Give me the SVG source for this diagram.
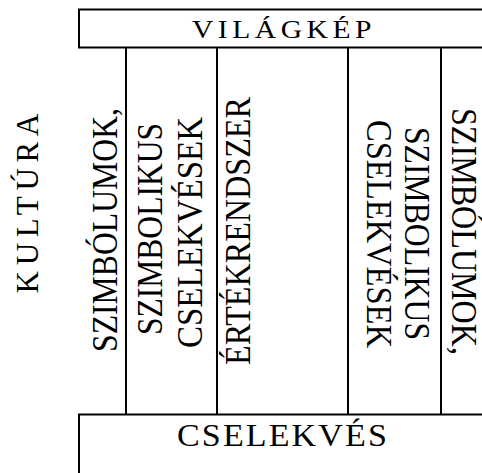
<svg xmlns="http://www.w3.org/2000/svg" width="482" height="473" viewBox="0 0 482 473">
<style>
.ln{fill:none;stroke:#000;stroke-width:2}
.t{font-family:"Liberation Serif","Times New Roman",serif;fill:#000;text-anchor:middle}
.col{font-size:35px}
</style>
<rect width="482" height="473" fill="#fff"/>
<g id="vilagkep">
<path class="ln" d="M484 9.5H79V47.5H484"/>
<text class="t" x="284" y="38" font-size="26" letter-spacing="4" textLength="184" lengthAdjust="spacingAndGlyphs">VILÁGKÉP</text>
</g>
<g id="cselekves">
<path class="ln" d="M79 475V414.5H484"/>
<text class="t" x="283" y="445.5" font-size="32" letter-spacing="2" textLength="212" lengthAdjust="spacingAndGlyphs">CSELEKVÉS</text>
</g>
<g id="kultura">
<text class="t" transform="translate(38,203.5) rotate(-90)" font-size="31" textLength="180" lengthAdjust="spacing">KULTÚRA</text>
</g>
<g id="connectors">
<path class="ln" d="M126 47.5V414.5M217 47.5V414.5M348 47.5V414.5M441 47.5V414.5"/>
</g>
<g id="col1">
<text class="t col" transform="translate(117,230) rotate(-90)" textLength="244" lengthAdjust="spacingAndGlyphs">SZIMBÓLUMOK,</text>
</g>
<g id="col2">
<text class="t col" transform="translate(162,229) rotate(-90)" textLength="212" lengthAdjust="spacingAndGlyphs">SZIMBOLIKUS</text>
<text class="t col" transform="translate(202,232.5) rotate(-90)" textLength="231" lengthAdjust="spacingAndGlyphs">CSELEKVÉSEK</text>
</g>
<g id="col3">
<text class="t col" transform="translate(250,231) rotate(-90)" textLength="268" lengthAdjust="spacingAndGlyphs">ÉRTÉKRENDSZER</text>
</g>
<g id="col4">
<text class="t col" transform="translate(405,233.5) rotate(90)" textLength="213" lengthAdjust="spacingAndGlyphs">SZIMBOLIKUS</text>
<text class="t col" transform="translate(367,234) rotate(90)" textLength="228" lengthAdjust="spacingAndGlyphs">CSELEKVÉSEK</text>
</g>
<g id="col5">
<text class="t col" transform="translate(452,231.5) rotate(90)" textLength="247" lengthAdjust="spacingAndGlyphs">SZIMBÓLUMOK,</text>
</g>
</svg>
